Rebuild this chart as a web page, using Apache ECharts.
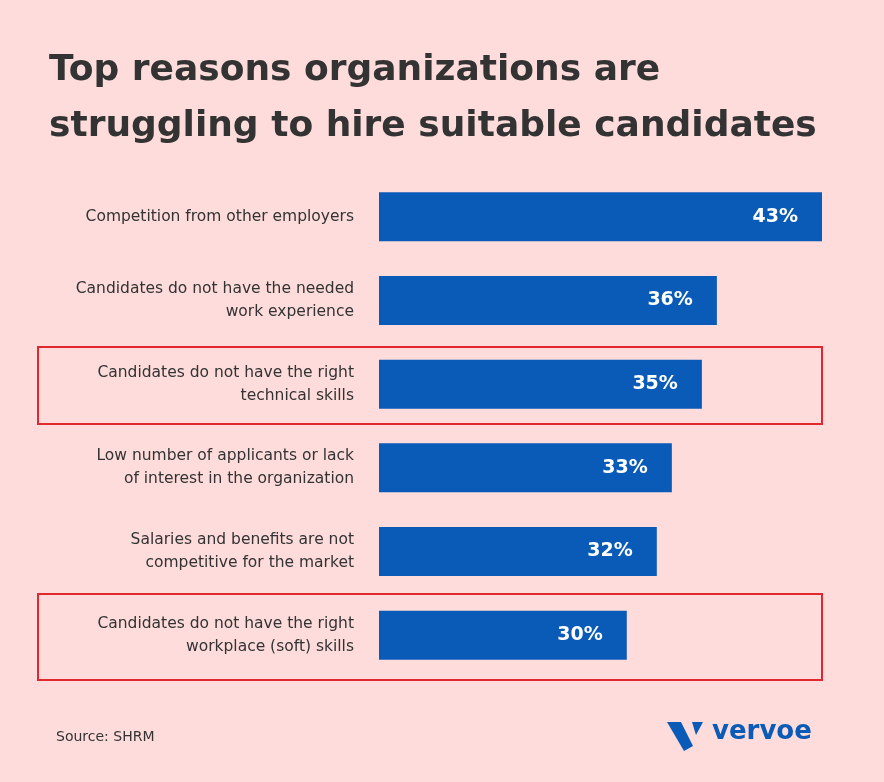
<!DOCTYPE html>
<html>
<head>
<meta charset="utf-8">
<title>hire reasons</title>
<script src="https://cdn.jsdelivr.net/npm/echarts@6/dist/echarts.min.js"></script>
<style>
html,body{margin:0;padding:0;background:#fddcdb;}
#main{width:884px;height:782px;}
</style>
</head>
<body>
<div id="main"></div>
<script>
var categories = [
	'Competition from other employers',
	'Candidates do not have the needed\nwork experience',
	'Candidates do not have the right\ntechnical skills',
	'Low number of applicants or lack\nof interest in the organization',
	'Salaries and benefits are not\ncompetitive for the market',
	'Candidates do not have the right\nworkplace (soft) skills'
];
var values = [43, 36, 35, 33, 32, 30];

var chart = echarts.init(document.getElementById('main'));
chart.setOption({
	backgroundColor: '#fddcdb',
	textStyle: {fontFamily: 'DejaVu Sans'},
	title: {
		text: 'Top reasons organizations are\nstruggling to hire suitable candidates',
		left: 44, top: 38,
		textStyle: {fontSize: 36, fontWeight: 'bold', color: '#333333', lineHeight: 56, fontFamily: 'DejaVu Sans'}
	},
	grid: {left: 379, width: 443, top: 175, height: 502},
	xAxis: {type: 'value', min: 13.5, max: 43, show: false},
	yAxis: {
		type: 'category', inverse: true, data: categories,
		axisLine: {show: false}, axisTick: {show: false},
		axisLabel: {margin: 25, fontSize: 15.5, color: '#333333', lineHeight: 23, align: 'right'}
	},
	series: [{
		type: 'bar', data: values, barWidth: 49,
		itemStyle: {color: '#0a5ab8'},
		label: {show: true, position: 'insideRight', distance: 24, formatter: '{c}%',
			color: '#ffffff', fontSize: 19, fontWeight: 'bold'}
	}],
	graphic: [
		{type: 'rect', shape: {x: 38, y: 347, width: 784, height: 77}, style: {fill: 'none', stroke: '#e0282e', lineWidth: 2}},
		{type: 'rect', shape: {x: 38, y: 594, width: 784, height: 86}, style: {fill: 'none', stroke: '#e0282e', lineWidth: 2}},
		{type: 'text', left: 56, top: 730, style: {text: 'Source: SHRM', fontSize: 14, fill: '#333333', fontFamily: 'DejaVu Sans'}},
		{type: 'polygon', shape: {points: [[667, 722], [681, 722], [693, 746], [684, 751]]}, style: {fill: '#0a5ab8'}},
		{type: 'polygon', shape: {points: [[692, 722], [703, 722], [696, 735]]}, style: {fill: '#0a5ab8'}},
		{type: 'text', left: 712, top: 719, style: {text: 'vervoe', fontSize: 26, fontWeight: 'bold', fill: '#0a5ab8', fontFamily: 'DejaVu Sans'}}
	]
});
</script>
</body>
</html>
